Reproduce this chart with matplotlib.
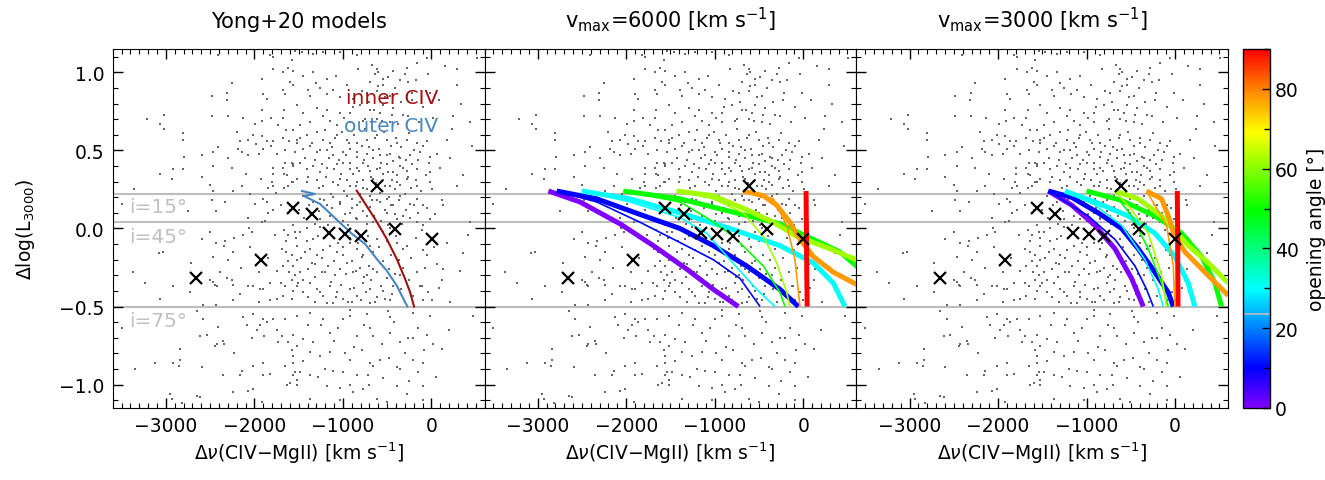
import numpy as np
import matplotlib.pyplot as plt
from matplotlib.colors import LinearSegmentedColormap, Normalize
from matplotlib.cm import ScalarMappable
from matplotlib.ticker import MultipleLocator, FuncFormatter

plt.rcParams['font.family'] = ['DejaVu Sans']
plt.rcParams['mathtext.fontset'] = 'dejavusans'

# background quasar sample: (dv [km/s], dlog L3000)
bg_pts = [
    (-2406, 1.11), (-1823, 1.11), (-1785, 1.10), (-1578, 1.08), (-1616, 1.03), (-1785, 1.02),
    (-1672, 1.00), (-1917, 0.96), (-2256, 0.93), (-1597, 0.94), (-1560, 0.92), (-1672, 0.89),
    (-2305, 0.87), (-2482, 0.85), (-1898, 0.86), (-1653, 0.86), (-2312, 0.82), (-1861, 0.83),
    (-3208, 0.70), (-3020, 0.73), (-3065, 0.67), (-3020, 0.64), (-2482, 0.72), (-2301, 0.72),
    (-2132, 0.71), (-1917, 0.76), (-1992, 0.67), (-1910, 0.69), (-1815, 0.71), (-1680, 0.71),
    (-1661, 0.76), (-1729, 0.66), (-1642, 0.63), (-2809, 0.61), (-2809, 0.57), (-2406, 0.52),
    (-2595, 0.47), (-2794, 0.46), (-2463, 0.49), (-2162, 0.56), (-2068, 0.57), (-2181, 0.51),
    (-2143, 0.49), (-2068, 0.47), (-1985, 0.54), (-1898, 0.51), (-1815, 0.53), (-1917, 0.59),
    (-2011, 0.60), (-1861, 0.56), (-1793, 0.56), (-1680, 0.58), (-1605, 0.56), (-1522, 0.55),
    (-3065, 0.35), (-2915, 0.38), (-2934, 0.32), (-2802, 0.38), (-2463, 0.40), (-2595, 0.33),
    (-2501, 0.28), (-2256, 0.39), (-2143, 0.27), (-1929, 0.32), (-1793, 0.39), (-1793, 0.35),
    (-1804, 0.30), (-1785, 0.27), (-1680, 0.39), (-1665, 0.35), (-1635, 0.34), (-1616, 0.27),
    (-1578, 0.30), (-1560, 0.41), (-1653, 0.42), (-1578, 0.42), (-3355, 0.25), (-2463, 0.24),
    (-2237, 0.24), (-1842, 0.26), (-1661, 0.26), (-1755, 0.23), (-3499, 0.16), (-2482, 0.18),
    (-2331, 0.17), (-2745, 0.11), (-2433, 0.11), (-2068, 0.07), (-1992, 0.16), (-1898, 0.19),
    (-1861, 0.17), (-1785, 0.12), (-1842, 0.10), (-1917, 0.04),
    (-2595, -0.07), (-3028, -0.15), (-3073, -0.16), (-2433, -0.09), (-2331, -0.08), (-2342, -0.11),
    (-2237, -0.15), (-2226, -0.06), (-2124, -0.04), (-2056, 0.00), (-2030, -0.02), (-1766, -0.04),
    (-1665, -0.01), (-1616, -0.04), (-1541, -0.02), (-1691, -0.13), (-1642, -0.15), (-1578, -0.17),
    (-1616, -0.21), (-1522, -0.20), (-1680, -0.24), (-1605, -0.28), (-1541, -0.30), (-1578, -0.33),
    (-1503, -0.35), (-1653, -0.37), (-1560, -0.40), (-1680, -0.43), (-1748, -0.45), (-1823, -0.46),
    (-1898, -0.39), (-1936, -0.39), (-2011, -0.37), (-2068, -0.37), (-1823, -0.35), (-3367, -0.28),
    (-3235, -0.35), (-2915, -0.37), (-2727, -0.41), (-2719, -0.22), (-2463, -0.18), (-2388, -0.28),
    (-2501, -0.33), (-2463, -0.34), (-2444, -0.36), (-2426, -0.37), (-2305, -0.32), (-2256, -0.33),
    (-2237, -0.36), (-3065, -0.45), (-2576, -0.49), (-2433, -0.49), (-2237, -0.46), (-2162, -0.42),
    (-3499, -0.64), (-2651, -0.53), (-2576, -0.58), (-2124, -0.57), (-2011, -0.55), (-1898, -0.58),
    (-1861, -0.60), (-1785, -0.58), (-1748, -0.65), (-1974, -0.65), (-2087, -0.62), (-1936, -0.62),
    (-2030, -0.70), (-1891, -0.69), (-2614, -0.69), (-2538, -0.68), (-2406, -0.63), (-2426, -0.74),
    (-2444, -0.75), (-2350, -0.72), (-2342, -0.74), (-2840, -0.77), (-1691, -0.69), (-1560, -0.68),
    (-1729, -0.73), (-1616, -0.73), (-1578, -0.78), (-1522, -0.75), (-2230, -0.80), (-2840, -0.84),
    (-2847, -0.88), (-3122, -0.86), (-2915, -0.86), (-2595, -0.89), (-2011, -0.88), (-1898, -0.86),
    (-1653, -0.88), (-1560, -0.86), (-3348, -0.90), (-2143, -0.91), (-2162, -0.94), (-2350, -0.94),
    (-1898, -0.94), (-1823, -0.93), (-1560, -0.94), (-1541, -0.92), (-1635, -1.00), (-1597, -0.99),
    (-1522, -0.97), (-2237, -1.05), (-2068, -1.04), (-2011, -1.03), (-2953, -1.06), (-2934, -1.09),
    (-2651, -1.07), (-2614, -1.08), (-2821, -1.12), (-1917, -1.11),
    (-1541, 1.14), (-1465, 1.13), (-1333, 1.12), (-1221, 1.13), (-1032, 1.13), (-844, 1.11),
    (-618, 1.02), (-599, 1.00), (-637, 0.99), (-693, 0.94), (-543, 0.96), (-430, 1.01),
    (-279, 1.03), (-166, 1.06), (-53, 1.09), (286, 1.02), (511, 1.09), (-1559, 1.01),
    (-1446, 0.98), (-1333, 1.00), (-1183, 0.96), (-1258, 0.90), (-1108, 0.89), (-1390, 0.89),
    (-1371, 0.85), (-1032, 0.84), (-882, 0.83), (-731, 0.87), (-618, 0.88), (-543, 0.92),
    (-468, 0.85), (-355, 0.95), (-260, 0.94), (-223, 0.82), (-16, 0.87), (286, 0.92),
    (-1522, 0.79), (-1446, 0.74), (-1296, 0.77), (-1183, 0.76), (-1032, 0.74), (-919, 0.74),
    (-806, 0.79), (-693, 0.76), (-580, 0.74), (-543, 0.79), (-430, 0.77), (-317, 0.73),
    (-468, 0.68), (-618, 0.70), (-769, 0.69), (-919, 0.68), (-1070, 0.66), (-1145, 0.69),
    (-1221, 0.72), (-1371, 0.68), (-1484, 0.66), (-1559, 0.63), (248, 0.72), (436, 0.68),
    (-1522, 0.57), (-1409, 0.60), (-1296, 0.62), (-1221, 0.57), (-1145, 0.55), (-1070, 0.60),
    (-957, 0.57), (-844, 0.55), (-731, 0.57), (-618, 0.60), (-505, 0.57), (-392, 0.55),
    (-279, 0.57), (-166, 0.55), (-53, 0.56), (173, 0.57), (455, 0.53),
    (-1541, 0.49), (-1446, 0.51), (-1371, 0.53), (-1296, 0.49), (-1183, 0.50), (-1108, 0.47),
    (-995, 0.49), (-919, 0.51), (-844, 0.46), (-731, 0.48), (-656, 0.50), (-580, 0.47),
    (-468, 0.48), (-355, 0.45), (-242, 0.47), (-129, 0.49), (-16, 0.46), (210, 0.45),
    (-1559, 0.40), (-1484, 0.42), (-1409, 0.38), (-1333, 0.40), (-1258, 0.36), (-1183, 0.39),
    (-1070, 0.41), (-995, 0.42), (-919, 0.38), (-844, 0.39), (-769, 0.42), (-693, 0.37),
    (-580, 0.39), (-505, 0.41), (-430, 0.36), (-355, 0.40), (-279, 0.37), (-166, 0.38),
    (-16, 0.36), (97, 0.39), (361, 0.34),
    (-1522, 0.32), (-1409, 0.30), (-1296, 0.31), (-1221, 0.27), (-1108, 0.30), (-1032, 0.32),
    (-919, 0.27), (-844, 0.30), (-769, 0.26), (-656, 0.32), (-543, 0.31), (-468, 0.27),
    (-392, 0.30), (-279, 0.32), (-166, 0.27), (-16, 0.30), (286, 0.27),
    (-1446, 0.21), (-1333, 0.17), (-1258, 0.19), (-1183, 0.15), (-1108, 0.20), (-1032, 0.17),
    (-957, 0.21), (-844, 0.15), (-769, 0.18), (-693, 0.21), (-580, 0.17), (-505, 0.19),
    (-430, 0.15), (-355, 0.21), (-242, 0.16), (-166, 0.19), (-91, 0.15), (135, 0.15),
    (-1371, 0.10), (-1258, 0.06), (-1145, 0.08), (-995, 0.05), (-919, 0.10), (-844, 0.06),
    (-731, 0.08), (-656, 0.04), (-505, 0.10), (-392, 0.06), (-317, 0.08), (-166, 0.04),
    (-16, 0.06), (436, 0.04),
    (-110, -0.01), (-53, -0.17), (60, -0.23), (135, -0.26), (361, -0.16), (417, -0.04),
    (323, -0.27), (-91, -0.46), (3, -0.46), (210, -0.47), (116, -0.33), (-110, -0.37),
    (-1559, 0.02), (-1484, -0.02), (-1409, 0.00), (-1333, -0.07), (-1258, 0.01), (-1522, -0.11),
    (-1428, -0.15), (-1371, -0.13), (-1296, -0.17), (-1221, -0.14), (-1145, -0.11), (-1070, -0.15),
    (-995, -0.12), (-919, -0.09), (-844, -0.13), (-769, -0.17), (-693, -0.11), (-618, -0.07),
    (-543, -0.02), (-468, 0.00), (-392, -0.09), (-317, -0.13), (-1559, -0.24), (-1484, -0.28),
    (-1390, -0.26), (-1315, -0.23), (-1239, -0.28), (-1164, -0.24), (-1089, -0.30), (-1032, -0.26),
    (-957, -0.22), (-882, -0.28), (-806, -0.25), (-731, -0.30), (-656, -0.26), (-580, -0.22),
    (-505, -0.32), (-430, -0.37), (-355, -0.30), (-1522, -0.37), (-1446, -0.41), (-1371, -0.35),
    (-1296, -0.39), (-1221, -0.43), (-1145, -0.37), (-1070, -0.41), (-995, -0.45), (-919, -0.39),
    (-844, -0.43), (-769, -0.35), (-693, -0.39), (-618, -0.44), (-543, -0.40), (-468, -0.46),
    (-1315, -0.47), (-1108, -0.48), (-901, -0.47), (-693, -0.48),
    (-1522, -0.56), (-1371, -0.54), (-1221, -0.58), (-919, -0.52), (-919, -0.56), (-731, -0.55),
    (-486, -0.53), (-468, -0.57), (-204, -0.54), (-16, -0.56), (474, -0.56), (-1559, -0.68),
    (-1446, -0.71), (-1333, -0.73), (-1145, -0.67), (-1051, -0.64), (-844, -0.69), (-693, -0.64),
    (-656, -0.69), (-468, -0.67), (-355, -0.73), (-260, -0.70), (-204, -0.70), (-53, -0.68),
    (22, -0.74), (116, -0.77), (-1559, -0.82), (-1371, -0.79), (-1258, -0.82), (-1145, -0.79),
    (-919, -0.84), (-788, -0.78), (-693, -0.86), (-656, -0.88), (-580, -0.84), (-392, -0.89),
    (-204, -0.84), (-91, -0.86), (-1484, -0.92), (-1371, -0.94), (-1277, -0.95), (-1108, -0.91),
    (-995, -0.92), (-844, -0.94), (-712, -0.94), (-543, -0.96), (-355, -0.90), (-148, -0.92),
    (-1522, -1.00), (-1183, -1.01), (-1032, -1.02), (-919, -1.00), (-882, -1.05), (-769, -1.03),
    (-392, -1.01), (-279, -1.06), (-91, -1.01), (-1371, -1.09), (-1032, -1.10), (-618, -1.09),
    (-505, -1.11), (-91, -1.10),
    # core of the distribution
    (-1480, 0.58), (-1430, 0.45), (-1395, 0.33), (-1350, 0.55), (-1310, 0.44), (-1275, 0.26),
    (-1260, 0.50), (-1235, 0.41), (-1205, 0.63), (-1190, 0.33), (-1160, 0.45), (-1140, 0.22),
    (-1125, 0.52), (-1100, 0.38), (-1085, 0.58), (-1060, 0.28), (-1045, 0.44), (-1020, 0.35),
    (-1005, 0.62), (-985, 0.24), (-970, 0.47), (-950, 0.31), (-935, 0.55), (-915, 0.42),
    (-900, 0.19), (-885, 0.35), (-870, 0.60), (-855, 0.27), (-840, 0.49), (-820, 0.37),
    (-805, 0.22), (-790, 0.53), (-775, 0.31), (-760, 0.44), (-745, 0.64), (-730, 0.25),
    (-715, 0.40), (-700, 0.52), (-685, 0.33), (-670, 0.18), (-655, 0.45), (-640, 0.58),
    (-625, 0.29), (-610, 0.38), (-595, 0.51), (-580, 0.23), (-565, 0.42), (-550, 0.35),
    (-535, 0.62), (-520, 0.27), (-505, 0.47), (-490, 0.36), (-475, 0.20), (-460, 0.53),
    (-445, 0.31), (-430, 0.43), (-415, 0.25), (-400, 0.58), (-385, 0.34), (-370, 0.46),
    (-355, 0.28), (-340, 0.52), (-320, 0.39), (-300, 0.22), (-285, 0.44), (-265, 0.33),
    (-250, 0.61), (-230, 0.26), (-215, 0.41), (-195, 0.50), (-175, 0.31), (-150, 0.44),
    (-120, 0.24), (-95, 0.53), (-60, 0.34), (-30, 0.42), (10, 0.25), (60, 0.48),
    (-1500, 0.12), (-1440, 0.07), (-1380, 0.15), (-1320, 0.03), (-1270, 0.11), (-1215, 0.18),
    (-1170, 0.02), (-1120, 0.13), (-1075, 0.06), (-1030, 0.16), (-980, 0.09), (-940, 0.02),
    (-895, 0.13), (-850, 0.07), (-810, 0.17), (-770, 0.11), (-725, 0.03), (-690, 0.14),
    (-650, 0.08), (-610, 0.18), (-570, 0.05), (-530, 0.12), (-490, 0.02), (-455, 0.15),
    (-410, 0.09), (-370, 0.18), (-330, 0.03), (-290, 0.12), (-245, 0.07), (-200, 0.15),
    (-150, 0.10), (-100, 0.02), (-45, 0.13), (40, 0.09), (120, 0.18),
    (-1530, -0.06), (-1470, -0.19), (-1450, -0.33), (-1410, -0.08), (-1390, -0.44), (-1350, -0.22),
    (-1320, -0.31), (-1285, -0.05), (-1260, -0.41), (-1240, -0.19), (-1200, -0.28), (-1180, -0.48),
    (-1150, -0.03), (-1130, -0.34), (-1100, -0.21), (-1080, -0.44), (-1050, -0.09), (-1020, -0.36),
    (-1000, -0.17), (-970, -0.29), (-945, -0.47), (-925, -0.06), (-900, -0.21), (-875, -0.38),
    (-850, -0.27), (-830, -0.09), (-800, -0.46), (-785, -0.18), (-760, -0.31), (-740, -0.41),
    (-720, -0.05), (-700, -0.24), (-680, -0.33), (-660, -0.15), (-640, -0.47), (-615, -0.28),
    (-590, -0.12), (-570, -0.37), (-550, -0.21), (-525, -0.45), (-505, -0.08), (-485, -0.26),
    (-460, -0.17), (-440, -0.42), (-415, -0.29), (-395, -0.05), (-370, -0.20), (-345, -0.39),
    (-320, -0.25), (-300, -0.47), (-280, -0.11), (-255, -0.33), (-230, -0.19), (-205, -0.43),
    (-180, -0.06), (-160, -0.28), (-130, -0.37), (-100, -0.14), (-70, -0.25), (-35, -0.41),
    (30, -0.12), (80, -0.38), (180, -0.09),
    (-1300, 0.93), (-1180, 0.86), (-1080, 0.98), (-990, 0.71), (-950, 0.92), (-890, 0.78),
    (-830, 1.02), (-790, 0.88), (-750, 0.70), (-710, 0.81), (-670, 1.05), (-650, 0.76),
    (-600, 0.91), (-560, 0.69), (-520, 0.84), (-490, 0.97), (-450, 0.73), (-410, 0.90),
    (-380, 0.67), (-340, 0.81), (-300, 0.99), (-260, 0.72), (-220, 0.87), (-180, 0.95),
    (-140, 0.68), (-90, 0.78), (-40, 0.99), (20, 0.71), (90, 0.82), (150, 1.04),
    (230, 0.64), (330, 0.80),
    (-2300, 0.45), (-2200, 0.62), (-2100, 0.35), (-2050, 0.22), (-1950, 0.48), (-1880, 0.05),
    (-1750, 0.48), (-1700, 0.15), (-1650, 0.50), (-1600, 0.12), (-1560, 0.30), (-2150, -0.25),
    (-2050, -0.12), (-1950, -0.28), (-1850, -0.19), (-1750, -0.27), (-1700, -0.35), (-1640, -0.08),
    (-1580, -0.45), (-1950, -0.47), (-2300, -0.20), (-2500, -0.02),
    (-1250, -0.62), (-1100, -0.72), (-1000, -0.58), (-870, -0.76), (-760, -0.62), (-560, -0.74),
    (-420, -0.60), (-300, -0.80), (-150, -0.64), (-1450, -0.85), (-1200, -0.90), (-980, -0.80),
    (-700, -1.00), (-480, -0.83), (-250, -0.98), (-1650, -0.58), (-1400, -0.62), (-80, -0.78),
    (50, -0.95), (200, -0.65),
]
bg_x = np.array([p[0] for p in bg_pts])
bg_y = np.array([p[1] for p in bg_pts])

# highlighted objects
obj_x = [-2660, -1925, -1560, -1352, -1153, -976, -799, -611, -408, 3]
obj_y = [-0.32, -0.20, 0.13, 0.09, -0.03, -0.035, -0.046, 0.27, -0.003, -0.067]

# Yong+20 model tracks
inner_x = [-844, -637, -505, -392, -298, -242, -197]
inner_y = [0.242, 0.061, -0.067, -0.195, -0.323, -0.407, -0.50]
outer_x = [-1462, -1316, -1439, -1258, -1078, -897, -750, -618, -505, -392, -272]
outer_y = [0.24, 0.221, 0.208, 0.157, 0.061, -0.035, -0.099, -0.195, -0.27, -0.366, -0.50]

# inclination reference levels
incl_y = [0.223, 0.04, -0.50]
incl_lab = ['i=15°', 'i=45°', 'i=75°']
incl_lab_y = [0.14, -0.05, -0.59]

# outflow models: opening angle, thick (True) / thin, track
v6_ang = [0, 10, 10, 30, 30, 50, 50, 62, 62, 78, 78, 90]
v6_thick = [True, True, False, True, False, True, False, True, False, True, False, True]
v6_x = [
    [-2879, -2522, -2070, -1693, -1317, -1016, -733],
    [-2785, -2333, -1844, -1392, -1016, -639, -263, -55],
    [-2785, -2333, -1844, -1392, -1016, -714, -488],
    [-2503, -1957, -1392, -827, -263, 114, 340, 472],
    [-2503, -1957, -1392, -1091, -827, -526, -319],
    [-2032, -1392, -827, -263, 114, 415, 641],
    [-2032, -1392, -1091, -790, -451, -263, -206],
    [-1430, -1016, -639, -338, -75, 302, 641],
    [-1430, -1016, -677, -451, -300, -187, -150],
    [-677, -451, -300, -150, -37, 114, 340, 641],
    [-677, -338, -187, -93, -37],
    [32, 34, 36, 40, 45],
]
v6_y = [
    [0.24, 0.17, 0.03, -0.11, -0.26, -0.39, -0.50],
    [0.24, 0.19, 0.09, 0.00, -0.11, -0.24, -0.39, -0.50],
    [0.24, 0.17, 0.04, -0.09, -0.20, -0.32, -0.50],
    [0.24, 0.19, 0.10, 0.00, -0.11, -0.22, -0.35, -0.50],
    [0.24, 0.17, 0.07, -0.03, -0.20, -0.39, -0.50],
    [0.24, 0.19, 0.11, 0.03, -0.07, -0.15, -0.26],
    [0.24, 0.17, 0.07, -0.05, -0.24, -0.41, -0.50],
    [0.24, 0.21, 0.12, 0.04, -0.05, -0.13, -0.21],
    [0.24, 0.19, 0.10, -0.05, -0.22, -0.41, -0.50],
    [0.24, 0.21, 0.15, 0.04, -0.07, -0.18, -0.28, -0.37],
    [0.24, 0.19, 0.02, -0.20, -0.50],
    [0.24, 0.10, 0.00, -0.30, -0.50],
]

v3_ang = [0, 10, 10, 30, 30, 50, 50, 62, 62, 78, 78, 90]
v3_thick = [True, True, False, True, False, True, False, True, False, True, False, True]
v3_x = [
    [-1433, -1170, -906, -680, -492, -360],
    [-1433, -1170, -869, -605, -417, -229, -78, -21],
    [-1433, -981, -680, -454, -323, -247],
    [-1245, -906, -530, -229, -3, 148, 223],
    [-1245, -906, -605, -341, -191, -134],
    [-1000, -605, -229, 73, 299, 449, 525],
    [-1000, -643, -492, -304, -153, -78],
    [-680, -417, -153, 148, 374, 600],
    [-680, -492, -304, -153, -97],
    [-323, -153, -78, -3, 110, 336, 600],
    [-323, -97, -21, -3],
    [24, 26, 28, 30, 32],
]
v3_y = [
    [0.24, 0.15, 0.02, -0.13, -0.32, -0.50],
    [0.24, 0.20, 0.10, 0.00, -0.13, -0.28, -0.41, -0.50],
    [0.24, 0.08, -0.07, -0.24, -0.39, -0.50],
    [0.24, 0.17, 0.08, -0.03, -0.18, -0.35, -0.50],
    [0.24, 0.15, 0.02, -0.20, -0.39, -0.50],
    [0.24, 0.18, 0.08, -0.03, -0.18, -0.35, -0.50],
    [0.24, 0.19, 0.08, -0.13, -0.35, -0.50],
    [0.24, 0.19, 0.08, -0.11, -0.22, -0.35],
    [0.24, 0.12, -0.03, -0.30, -0.50],
    [0.24, 0.19, 0.08, -0.05, -0.15, -0.28, -0.43],
    [0.24, 0.02, -0.24, -0.50],
    [0.24, 0.10, 0.00, -0.30, -0.50],
]

titles = ['Yong+20 models', r'v$_{\rm max}$=6000 [km s$^{-1}$]', r'v$_{\rm max}$=3000 [km s$^{-1}$]']

# rainbow table running purple -> blue -> cyan -> green -> yellow -> red
cmap = LinearSegmentedColormap.from_list('angle', [
    (0.0, (0.5, 0.0, 1.0)), (0.11, (0.0, 0.0, 1.0)), (0.33, (0.0, 1.0, 1.0)),
    (0.55, (0.0, 1.0, 0.0)), (0.77, (1.0, 1.0, 0.0)), (0.88, (1.0, 0.55, 0.0)),
    (1.0, (1.0, 0.0, 0.0))])
norm = Normalize(0, 90)

yfmt = FuncFormatter(lambda v, pos: ('%.1f' % v).replace('-', '\u2212'))

fig = plt.figure(figsize=(13.25, 4.81), dpi=100)
lefts = [0.0851, 0.3657, 0.6464]
axes = [fig.add_axes([l, 0.1497, 0.2806, 0.7464]) for l in lefts]

FS = 13.5
for i, ax in enumerate(axes):
    ax.set_xlim(-3600, 600)
    ax.set_ylim(-1.15, 1.15)
    for yl in incl_y:
        ax.axhline(yl, color='#bdbdbd', lw=1.5, zorder=1)
    ax.scatter(bg_x, bg_y, s=3.2, marker='s', color='#666666', lw=0, zorder=2)
    ax.xaxis.set_major_locator(MultipleLocator(1000))
    ax.xaxis.set_minor_locator(MultipleLocator(100))
    ax.yaxis.set_major_locator(MultipleLocator(0.5))
    ax.yaxis.set_minor_locator(MultipleLocator(0.1))
    ax.yaxis.set_major_formatter(yfmt)
    ax.tick_params(which='both', direction='in', top=True, right=True, labelsize=FS)
    ax.tick_params(which='major', length=7, width=1, pad=6)
    ax.tick_params(which='minor', length=3.5, width=0.8)
    ax.set_xlabel(r'$\Delta\nu$(CIV$-$MgII) [km s$^{-1}$]', fontsize=FS, labelpad=3)
    ax.set_title(titles[i], fontsize=15, pad=16)
    if i > 0:
        ax.set_yticklabels([])

ax0 = axes[0]
ax0.set_ylabel(r'$\Delta$log(L$_{3000}$)', fontsize=FS, labelpad=16)
for yl, lab in zip(incl_lab_y, incl_lab):
    ax0.text(-3420, yl, lab, color='#c0c0c0', fontsize=14.5, va='center', ha='left', zorder=1)
ax0.plot(inner_x, inner_y, color='#a01010', lw=1.5, zorder=3)
ax0.plot(outer_x, outer_y, color='#4a86bf', lw=1.5, zorder=3)
ax0.text(-960, 0.84, 'inner CIV', color='#a01010', fontsize=14.5, va='center', zorder=4)
ax0.text(-985, 0.66, 'outer CIV', color='#4a86bf', fontsize=14.5, va='center', zorder=4)

for ax, angs, thick, xs, ys in [(axes[1], v6_ang, v6_thick, v6_x, v6_y),
                                (axes[2], v3_ang, v3_thick, v3_x, v3_y)]:
    for a, t, xx, yy in zip(angs, thick, xs, ys):
        ax.plot(xx, yy, color=cmap(norm(a)), lw=3.6 if t else 1.2,
                solid_capstyle='butt', zorder=3 if t else 4)

for ax in axes:
    ax.plot(obj_x, obj_y, 'x', color='k', ms=8.5, mew=1.6, zorder=5)

cax = fig.add_axes([0.9379, 0.1497, 0.0206, 0.7464])
cb = fig.colorbar(ScalarMappable(norm=norm, cmap=cmap), cax=cax)
cb.set_ticks([0, 20, 40, 60, 80])
cb.ax.yaxis.set_minor_locator(MultipleLocator(10))
cb.ax.tick_params(which='both', direction='in', labelsize=FS, width=1)
cb.ax.tick_params(which='major', length=6)
cb.ax.tick_params(which='minor', length=4)
cb.outline.set_linewidth(1)
cb.ax.axhline(23.5, color='#bdbdbd', lw=1.2)
cb.set_label('opening angle [°]', fontsize=FS, labelpad=6)

fig.savefig('out.png', dpi=100)
